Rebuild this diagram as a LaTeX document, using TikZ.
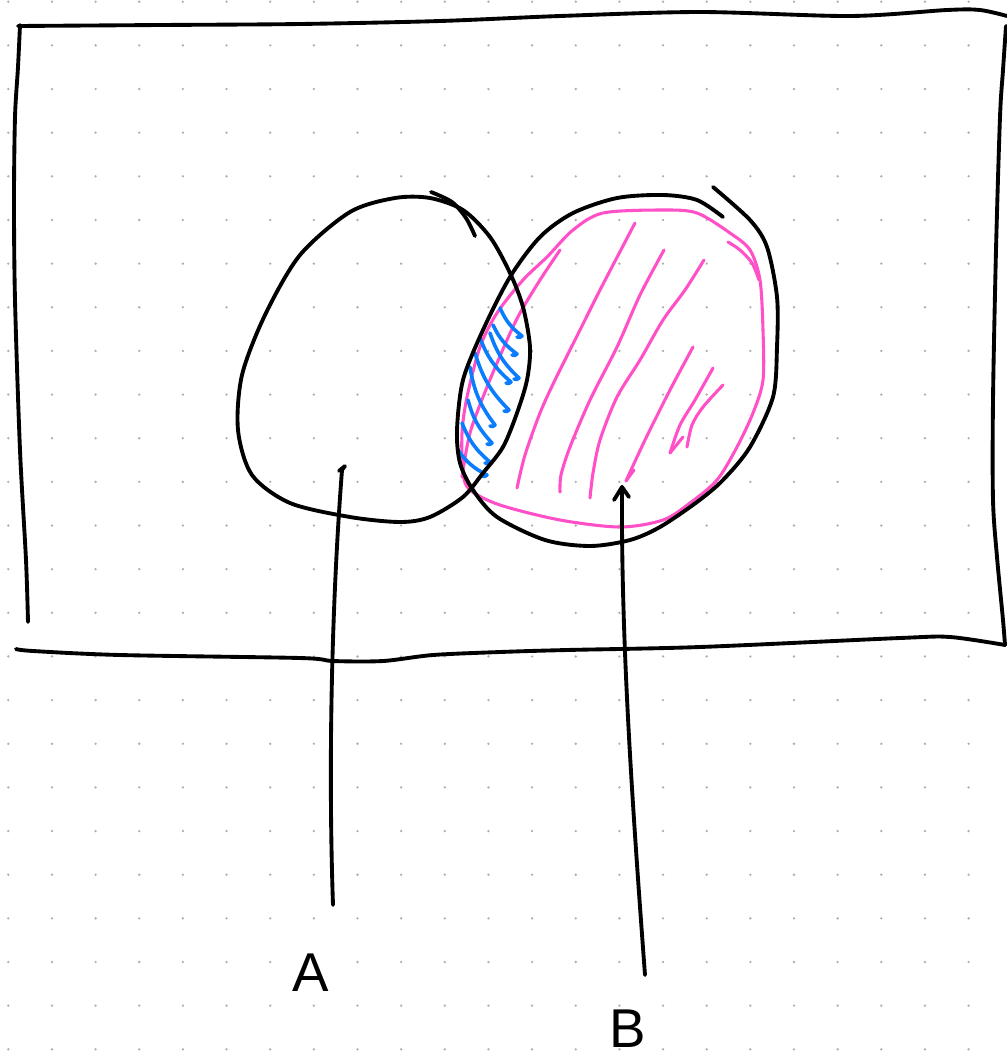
\documentclass[tikz,border=0pt]{standalone}
\usepackage{fontspec}
\setmainfont{Liberation Sans}
\definecolor{dotgray}{RGB}{175,175,175}
\definecolor{hpink}{RGB}{255,80,200}
\definecolor{hblue}{RGB}{10,125,255}
\tikzset{
  ink/.style={line width=2.9pt, line cap=round, line join=round, black},
  pinkink/.style={line width=2.3pt, line cap=round, line join=round, hpink},
  blueink/.style={line width=2.7pt, line cap=round, line join=round, hblue},
  lbl/.style={inner sep=0pt, font=\fontsize{41}{41}\selectfont},
}
\begin{document}
\begin{tikzpicture}[x=0.75pt, y=-0.75pt]
\useasboundingbox (0,0) rectangle (1007,1061);
\fill[white] (0,0) rectangle (1007,1061);
% dot grid
\foreach \i in {0,...,22} {
  \foreach \j in {0,...,24} {
    \fill[dotgray] ({8.3+43.65*\i},{1.7+43.65*\j}) circle (1.3);
  }
}
% outer frame (hand-drawn)
\draw[ink] plot[smooth, tension=0.5] coordinates {(18,26) (160,25) (300,24) (440,21) (560,16) (700,12) (850,16) (947,10) (980,10) (1007,16)};
\draw[ink] plot[smooth, tension=0.5] coordinates {(1006,26) (1003,70) (1000,117) (996,250) (993,400) (993,500) (997,557) (1003,620) (1005,645)};
\draw[ink] plot[smooth, tension=0.5] coordinates {(1005,645) (950,637) (900,638) (700,647) (567,650) (500,652) (433,655) (383,661) (333,661) (300,658) (120,655) (33,651) (16,649)};
\draw[ink] plot[smooth, tension=0.5] coordinates {(20,25) (18,67) (15,117) (14,200) (15,300) (20,450) (26,560) (28,622)};
% pink outline of B
\draw[pinkink] plot[smooth cycle] coordinates {(603,213) (663,210) (697,213) (730,233) (750,250) (760,280) (763,330) (763,380) (753,413) (737,447) (717,480) (690,503) (663,520) (620,527) (560,520) (500,505) (470,490) (463,473) (462,433) (467,397) (480,347) (497,313) (523,280) (547,257) (573,230)};
\draw[pinkink] plot[smooth] coordinates {(728,242) (740,250) (752,263) (759,280)};
% pink hatching
\draw[pinkink] plot[smooth] coordinates {(560,250) (540,280) (520,313) (507,340) (487,387) (470,433) (462,477)};
\draw[pinkink] plot[smooth] coordinates {(635,223) (600,290) (580,330) (555,380) (540,413) (525,455) (517,488)};
\draw[pinkink] plot[smooth] coordinates {(664,250) (640,295) (617,347) (590,400) (570,447) (561,475) (560,492)};
\draw[pinkink] plot[smooth] coordinates {(704,260) (685,290) (663,320) (640,360) (617,397) (600,440) (593,473) (590,498)};
\draw[pinkink] plot[smooth] coordinates {(693,347) (670,390) (645,440) (626,481)};
\draw[pinkink] (626,481) -- (634,470);
\draw[pinkink] plot[smooth] coordinates {(713,368) (695,400) (680,425) (670,453)};
\draw[pinkink] (670,453) -- (683,437);
\draw[pinkink] plot[smooth] coordinates {(723,385) (703,407) (692,425) (687,447)};
% blue hatching
\foreach \ax/\ay/\bx/\by in {500/308/522/336, 493/325/517/354, 490/333/519/378, 480/338/511/382, 475/353/509/410, 470/367/495/425, 468/400/492/443, 462/423/490/462, 458/450/487/475} {
  \draw[blueink] (\ax,\ay) to[bend right=14] (\bx,\by) to[bend left=40] ++(-5,1);
}
% circle A
\draw[ink] plot[smooth cycle] coordinates {(430,198) (463,210) (490,237) (510,273) (523,307) (530,347) (527,380) (517,413) (503,447) (483,473) (463,497) (430,517) (400,522) (350,517) (290,503) (252,475) (238,430) (242,375) (265,315) (300,255) (350,212) (395,198)};
\draw[ink] plot[smooth] coordinates {(431,192) (452,202) (466,218) (475,236)};
% circle B
\draw[ink] plot[smooth] coordinates {(713,187) (750,220) (767,247) (777,297) (777,347) (773,397) (750,447) (723,480) (697,502) (660,527) (630,540) (590,546) (545,540) (497,517) (473,490) (460,463) (457,430) (463,380) (483,330) (510,277) (540,237) (573,213) (617,198) (663,195) (697,200) (723,217)};
% labels
\node[lbl] (labA) at (311,973) {A};
\node[lbl] (labB) at (628,1029) {B};
% arrows
\coordinate (aEnd) at (333,905);
\coordinate (aTip) at (342,470);
\coordinate (bEnd) at (645,975);
\coordinate (bTip) at (622,487);
\draw[ink] (aEnd) .. controls (328,760) and (332,600) .. (aTip);
\draw[ink] (aTip) -- (345,466) -- (339,471);
\draw[ink] (bEnd) .. controls (632,800) and (621,640) .. (bTip);
\draw[ink] (614,500) -- (bTip) -- (629,497);
\end{tikzpicture}
\end{document}
